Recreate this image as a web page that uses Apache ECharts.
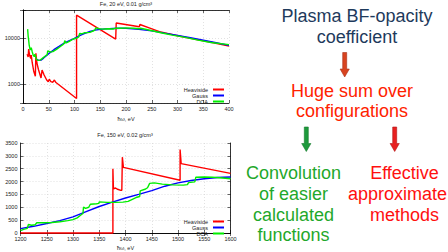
<!DOCTYPE html>
<html><head><meta charset="utf-8">
<script src="https://cdn.jsdelivr.net/npm/echarts@6/dist/echarts.min.js"></script>
<style>html,body{margin:0;padding:0;background:#fff}#c{width:448px;height:252px}</style>
</head><body><div id="c"></div>
<script>
// ---- data ----
const seriesNames = ['Heaviside', 'Gauss', 'DCA'];
const topTitle = 'Fe, 20 eV, 0.01 g/cm³';
const bottomTitle = 'Fe, 150 eV, 0.02 g/cm³';
const xAxisTitle = 'ħω, eV';
const topYLabels = [1000, 10000];

const topHeaviside = [[8,4500],[10,3900],[11,5800],[13,4200],[15,3600],[16,4300],[18,2900],[21,1900],[24,1500],[25,4700],[27,2900],[30,2100],[35,1380],[37,2050],[41,1600],[46,1250],[49,1150],[51,1300],[54,1150],[58,1120],[61,1250],[64,1100],[104,500],[104,31000],[180,9500],[181,21000],[226,17500],[227,19500],[245,16500],[265,13700],[300,11200],[330,9600],[365,8100],[400,6700]];
const topGauss = [[27,3500],[30,3300],[35,3350],[40,3700],[50,4600],[60,5600],[70,6600],[80,7800],[90,8800],[100,9800],[110,11200],[120,12600],[130,13800],[140,14800],[150,15300],[160,15700],[175,16000],[190,16200],[200,16100],[225,15300],[250,14200],[275,12700],[300,11400],[325,10200],[350,9000],[375,7900],[400,6950]];
const topDCA = [[9,15500],[10,11000],[11,9000],[12,7000],[14,5500],[16,6200],[18,5000],[20,4200],[22,4000],[23,4500],[26,3500],[29,3300],[33,3350],[37,3600],[42,4000],[47,4400],[48,5300],[53,5000],[58,5100],[65,5700],[72,6500],[78,7300],[80,7600],[81,8800],[84,7800],[90,8500],[97,9400],[104,10000],[108,10500],[110,12500],[114,12300],[120,13000],[130,13200],[138,14500],[140,15000],[141,16500],[148,15800],[155,15500],[165,15800],[175,15600],[180,16300],[190,16200],[200,16500],[215,16200],[226,15800],[228,16200],[240,15200],[255,14000],[270,12800],[290,11500],[315,10300],[340,9000],[365,8000],[400,7200]];

const botHeaviside = [[1200,0],[1376,0],[1376,2500],[1377,1720],[1381,1750],[1385,1700],[1391,1660],[1393,1660],[1394,2950],[1396,2550],[1504,2050],[1504,3250],[1506,2700],[1600,2320]];
const botGauss = [[1200,170],[1225,260],[1250,370],[1275,480],[1300,630],[1325,830],[1350,1030],[1375,1200],[1400,1360],[1425,1500],[1450,1650],[1475,1820],[1500,1950],[1525,2040],[1550,2110],[1575,2160],[1600,2180]];
const botDCA = [[1200,90],[1206,140],[1213,180],[1215,330],[1221,300],[1228,320],[1231,400],[1245,400],[1260,410],[1275,440],[1290,480],[1300,520],[1308,590],[1315,700],[1319,760],[1320,1010],[1324,960],[1330,1000],[1333,1120],[1345,1140],[1349,1150],[1350,1210],[1365,1190],[1380,1190],[1395,1200],[1405,1230],[1412,1300],[1420,1380],[1427,1420],[1428,1640],[1437,1700],[1442,1760],[1446,1930],[1455,1950],[1470,1900],[1490,1870],[1510,1860],[1518,1880],[1520,1960],[1532,1990],[1534,2170],[1550,2180],[1565,2170],[1580,2150],[1600,2110]];

const slideLines = {
  head: ['Plasma BF-opacity', 'coefficient'],
  sum: ['Huge sum over', 'configurations'],
  conv: ['Convolution', 'of easier', 'calculated', 'functions'],
  eff: ['Effective', 'approximate', 'methods']
};

// ---- styles ----
const FONT = 'Liberation Sans';
const colors = ['#ff0000', '#0000ff', '#00ee00'];
const small = {fontSize: 5.5, fontFamily: FONT, color: '#222'};
const gridLine = {show: true, lineStyle: {color: '#cfcfcf', type: [1, 2], width: 0.6}};
const axLine = {show: true, lineStyle: {color: '#000', width: 0.8}};
const tick = {show: true, inside: true, length: 3, lineStyle: {color: '#000', width: 0.6}};
const plain = v => String(v);

function xAx(grid, min, max, pos, labels, gap) {
  return {type: 'value', gridIndex: grid, min, max, interval: 50, position: pos,
    axisLine: axLine, axisTick: tick,
    axisLabel: labels ? Object.assign({margin: 3, formatter: plain}, small) : {show: false},
    splitLine: labels ? gridLine : {show: false},
    name: labels ? xAxisTitle : '', nameLocation: 'middle', nameGap: gap,
    nameTextStyle: small};
}
function yLog(grid, pos, labels) {
  return {type: 'log', logBase: 10, gridIndex: grid, min: 400, max: 40000, position: pos,
    axisLine: axLine, axisTick: tick,
    axisLabel: labels ? Object.assign({margin: 3, showMinLabel: true, showMaxLabel: true,
      formatter: v => topYLabels.some(t => Math.abs(v - t) < 1) ? String(Math.round(v)) : ''}, small) : {show: false},
    splitLine: labels ? gridLine : {show: false}};
}
function yLin(grid, pos, labels) {
  return {type: 'value', gridIndex: grid, min: 0, max: 3500, interval: 500, position: pos,
    axisLine: axLine, axisTick: tick,
    axisLabel: labels ? Object.assign({margin: 3, formatter: plain}, small) : {show: false},
    splitLine: labels ? gridLine : {show: false}};
}
function line(name, data, xi, yi, ci) {
  return {type: 'line', name, data, xAxisIndex: xi, yAxisIndex: yi, symbol: 'none',
    clip: false, lineStyle: {color: colors[ci], width: 1.4}, itemStyle: {color: colors[ci]}, z: 3 + ci};
}
function legend(top) {
  return {data: seriesNames, orient: 'vertical', right: 224, top, padding: 0, align: 'right',
    itemWidth: 11, itemHeight: 2, itemGap: 0, icon: 'rect',
    textStyle: {fontSize: 5.5, fontFamily: FONT, color: '#222', lineHeight: 5}};
}
function txt(s, x, y, color, size) {
  return {type: 'text', x, y, silent: true,
    style: {text: s, fill: color, fontSize: size || 18, fontFamily: FONT, align: 'center', verticalAlign: 'middle'}};
}
function arrow(cx, y0, y1, fill, stroke) {
  const hw = 2, hh = 4.6, head = 8;
  return {type: 'polygon', silent: true,
    shape: {points: [[cx - hw, y0], [cx + hw, y0], [cx + hw, y1 - head], [cx + hh, y1 - head], [cx, y1], [cx - hh, y1 - head], [cx - hw, y1 - head]]},
    style: {fill, stroke, lineWidth: 0.6}};
}

const graphics = [
  txt(topTitle, 126, 3.5, '#222', 5.5),
  txt(bottomTitle, 125, 135, '#222', 5.5)
];
slideLines.head.forEach((s, i) => graphics.push(txt(s, 357, 16 + i * 20.7, '#1e3a5c')));
slideLines.sum.forEach((s, i) => graphics.push(txt(s, 352, 90.7 + i * 20, '#ff2200')));
slideLines.conv.forEach((s, i) => graphics.push(txt(s, 293.5, 173.3 + i * 20.7, '#1fa82b')));
slideLines.eff.forEach((s, i) => graphics.push(txt(s, i === 1 ? 397.5 : 404.5, 173.3 + i * 20.7, '#ff1010')));
graphics.push(arrow(344.7, 52.5, 77, '#d8431f', '#a8301a'));
graphics.push(arrow(306.3, 127, 151.5, '#1d9a3c', '#157a2c'));
graphics.push(arrow(394.7, 127, 151.5, '#e82020', '#b01818'));

const chart = echarts.init(document.getElementById('c'), null, {renderer: 'svg'});
chart.setOption({
  animation: false,
  backgroundColor: '#fff',
  grid: [
    {left: 23, top: 10, width: 206, height: 93},
    {left: 20.5, top: 143, width: 210, height: 93}
  ],
  xAxis: [
    xAx(0, 0, 400, 'bottom', true, 13), xAx(0, 0, 400, 'top', false, 0),
    xAx(1, 1200, 1600, 'bottom', true, 12), xAx(1, 1200, 1600, 'top', false, 0)
  ],
  yAxis: [
    yLog(0, 'left', true), yLog(0, 'right', false),
    yLin(1, 'left', true), yLin(1, 'right', false)
  ],
  legend: [legend(86.5), legend(218.5)],
  series: [
    line(seriesNames[0], topHeaviside, 0, 0, 0),
    line(seriesNames[1], topGauss, 0, 0, 1),
    line(seriesNames[2], topDCA, 0, 0, 2),
    line(seriesNames[0], botHeaviside, 2, 2, 0),
    line(seriesNames[1], botGauss, 2, 2, 1),
    line(seriesNames[2], botDCA, 2, 2, 2)
  ],
  graphic: graphics
});
</script></body></html>
